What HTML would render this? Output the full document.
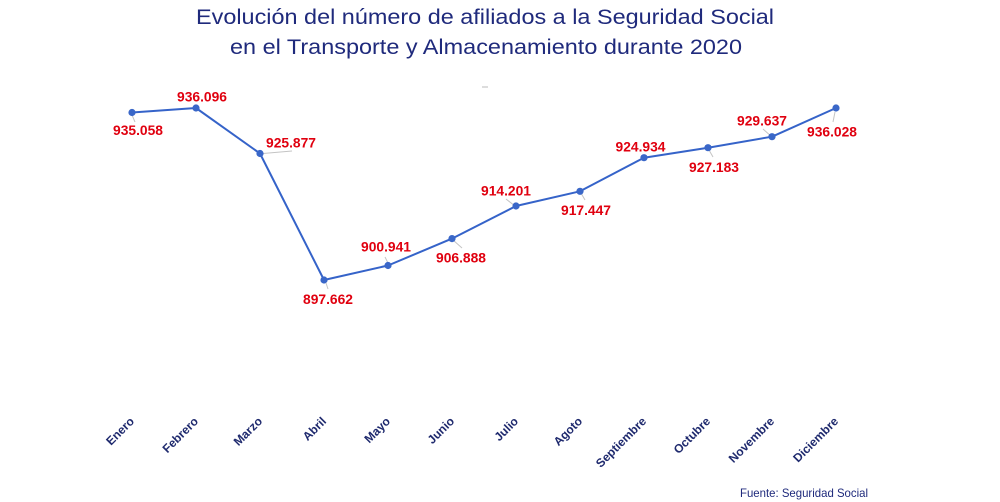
<!DOCTYPE html>
<html><head><meta charset="utf-8">
<style>
html,body{margin:0;padding:0;background:#fff;}
svg{display:block;}
</style></head>
<body>
<svg width="1000" height="502" viewBox="0 0 1000 502" xmlns="http://www.w3.org/2000/svg">
<rect width="1000" height="502" fill="#fff"/>
<g font-family="Liberation Sans, sans-serif" fill="#1f2a7c">
<text x="485" y="24" font-size="21" text-anchor="middle" textLength="578" lengthAdjust="spacingAndGlyphs">Evolución del número de afiliados a la Seguridad Social</text>
<text x="486" y="54" font-size="21" text-anchor="middle" textLength="512" lengthAdjust="spacingAndGlyphs">en el Transporte y Almacenamiento durante 2020</text>
</g>
<line x1="482" y1="87" x2="488" y2="87" stroke="#bbb" stroke-width="1"/>
<g stroke="#c4c4c4" stroke-width="1">
<line x1="132" y1="115" x2="135" y2="122"/>
<line x1="263" y1="153.5" x2="292" y2="151"/>
<line x1="326" y1="283" x2="328" y2="289"/>
<line x1="385" y1="257" x2="388" y2="263"/>
<line x1="453" y1="240" x2="462" y2="248"/>
<line x1="506" y1="199" x2="515" y2="206"/>
<line x1="581" y1="193" x2="585" y2="200"/>
<line x1="709" y1="150" x2="713" y2="157"/>
<line x1="763" y1="129" x2="772" y2="137"/>
<line x1="835" y1="112" x2="833" y2="122"/>
</g>
<polyline fill="none" stroke="#3563c9" stroke-width="2" stroke-linejoin="round"
points="132,112.5 196,108 260,153.5 324,280 388,265.5 452,238.6 516,206 580,191.3 644,157.7 708,147.7 772,136.7 836,108"/>
<g fill="#3a67c8">
<circle cx="132" cy="112.5" r="3.6"/>
<circle cx="196" cy="108" r="3.6"/>
<circle cx="260" cy="153.5" r="3.6"/>
<circle cx="324" cy="280" r="3.6"/>
<circle cx="388" cy="265.5" r="3.6"/>
<circle cx="452" cy="238.6" r="3.6"/>
<circle cx="516" cy="206" r="3.6"/>
<circle cx="580" cy="191.3" r="3.6"/>
<circle cx="644" cy="157.7" r="3.6"/>
<circle cx="708" cy="147.7" r="3.6"/>
<circle cx="772" cy="136.7" r="3.6"/>
<circle cx="836" cy="108" r="3.6"/>
</g>
<g font-family="Liberation Sans, sans-serif" font-weight="bold" font-size="13.5" fill="#e0000f" text-anchor="middle">
<text x="138" y="135" textLength="50" lengthAdjust="spacingAndGlyphs">935.058</text>
<text x="202" y="101.5" textLength="50" lengthAdjust="spacingAndGlyphs">936.096</text>
<text x="291" y="147.5" textLength="50" lengthAdjust="spacingAndGlyphs">925.877</text>
<text x="328" y="304" textLength="50" lengthAdjust="spacingAndGlyphs">897.662</text>
<text x="386" y="251.5" textLength="50" lengthAdjust="spacingAndGlyphs">900.941</text>
<text x="461" y="262.5" textLength="50" lengthAdjust="spacingAndGlyphs">906.888</text>
<text x="506" y="195.5" textLength="50" lengthAdjust="spacingAndGlyphs">914.201</text>
<text x="586" y="215" textLength="50" lengthAdjust="spacingAndGlyphs">917.447</text>
<text x="640.5" y="151.5" textLength="50" lengthAdjust="spacingAndGlyphs">924.934</text>
<text x="714" y="172" textLength="50" lengthAdjust="spacingAndGlyphs">927.183</text>
<text x="762" y="125.5" textLength="50" lengthAdjust="spacingAndGlyphs">929.637</text>
<text x="832" y="136.5" textLength="50" lengthAdjust="spacingAndGlyphs">936.028</text>
</g>
<g font-family="Liberation Sans, sans-serif" font-weight="bold" font-size="12" fill="#1f2a6e" text-anchor="end">
<text transform="translate(135,422) rotate(-45)">Enero</text>
<text transform="translate(199,422) rotate(-45)">Febrero</text>
<text transform="translate(263,422) rotate(-45)">Marzo</text>
<text transform="translate(327,422) rotate(-45)">Abril</text>
<text transform="translate(391,422) rotate(-45)">Mayo</text>
<text transform="translate(455,422) rotate(-45)">Junio</text>
<text transform="translate(519,422) rotate(-45)">Julio</text>
<text transform="translate(583,422) rotate(-45)">Agoto</text>
<text transform="translate(647,422) rotate(-45)">Septiembre</text>
<text transform="translate(711,422) rotate(-45)">Octubre</text>
<text transform="translate(775,422) rotate(-45)">Novembre</text>
<text transform="translate(839,422) rotate(-45)">Diciembre</text>
</g>
<text x="740" y="497" font-family="Liberation Sans, sans-serif" font-size="12" fill="#1f2a7c" textLength="128" lengthAdjust="spacingAndGlyphs">Fuente: Seguridad Social</text>
</svg>
</body></html>
